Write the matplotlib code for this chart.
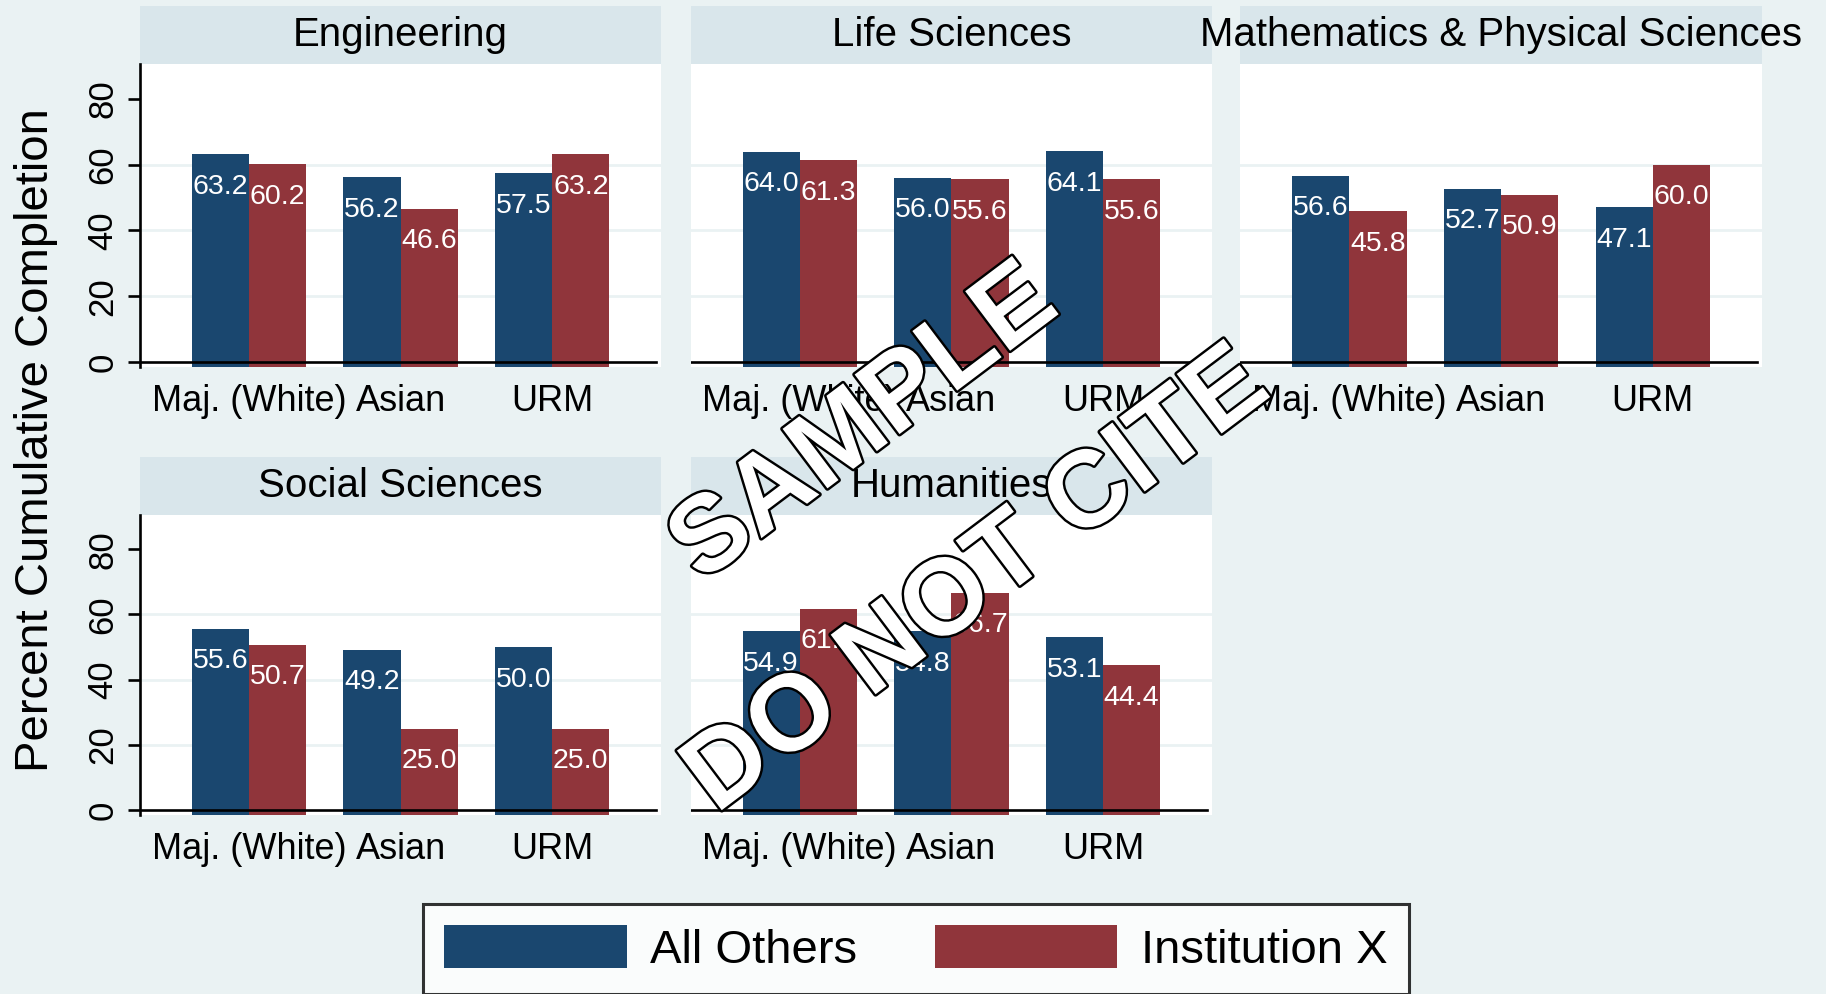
import matplotlib
matplotlib.use("Agg")
import matplotlib.pyplot as plt
import matplotlib.patheffects as pe
from matplotlib.patches import Rectangle
import numpy as np

# ---- data ----
groups = ["Maj. (White)", "Asian", "URM"]
fields = ["Engineering", "Life Sciences", "Mathematics & Physical Sciences",
          "Social Sciences", "Humanities"]
all_others = [
    [63.2, 56.2, 57.5],
    [64.0, 56.0, 64.1],
    [56.6, 52.7, 47.1],
    [55.6, 49.2, 50.0],
    [54.9, 54.8, 53.1],
]
institution_x = [
    [60.2, 46.6, 63.2],
    [61.3, 55.6, 55.6],
    [45.8, 50.9, 60.0],
    [50.7, 25.0, 25.0],
    [61.8, 66.7, 44.4],
]
series_names = ["All Others", "Institution X"]
yticks = [0, 20, 40, 60, 80]
ylabel = "Percent Cumulative Completion"

# ---- style ----
BG = "#EAF2F3"
STRIP = "#D9E6EB"
NAVY = "#1A476F"
MAROON = "#90353B"
FONT = ["Liberation Sans", "DejaVu Sans"]
plt.rcParams["font.family"] = FONT

W, H = 1826, 994
fig = plt.figure(figsize=(W / 100, H / 100), dpi=100, facecolor=BG)

col_left = [139.7, 690.5, 1240.2]
ax_w = 521.7
rows = [(64.0, 367.0), (514.7, 815.0)]  # (top, bottom) px
strip_h = 58.0
ylim = (-1.5, 90.6)
bw = 0.377
x = np.arange(len(groups))

axes = []
handles = None
for i, field in enumerate(fields):
    r, c = divmod(i, 3)
    top, bot = rows[r]
    ax = fig.add_axes([col_left[c] / W, (H - bot) / H, ax_w / W, (bot - top) / H])
    ax.set_facecolor("white")
    ax.set_xlim(-0.72, 2.72)
    ax.set_ylim(*ylim)
    for g in yticks[1:-1]:
        ax.axhline(g, color=BG, lw=2.0, zorder=0.5)
    b1 = ax.bar(x - bw / 2, np.array(all_others[i]) - ylim[0], bw, bottom=ylim[0],
                color=NAVY, zorder=2, label=series_names[0])
    b2 = ax.bar(x + bw / 2, np.array(institution_x[i]) - ylim[0], bw, bottom=ylim[0],
                color=MAROON, zorder=2, label=series_names[1])
    if handles is None:
        handles = [b1, b2]
    for xs, vals in ((x - bw / 2, all_others[i]), (x + bw / 2, institution_x[i])):
        for xx, v in zip(xs, vals):
            ax.annotate(f"{v:.1f}", (xx, v), xytext=(0, -23.5),
                        textcoords="offset points", ha="center", va="center",
                        color="white", fontsize=20.5, zorder=3)
    ax.axhline(0, color="black", lw=1.9, xmax=0.99, zorder=4)
    for s in ["top", "right", "bottom"]:
        ax.spines[s].set_visible(False)
    ax.set_xticks(x)
    ax.set_xticklabels(groups, fontsize=26)
    ax.tick_params(axis="x", length=0, pad=12.5)
    if c == 0:
        ax.spines["left"].set_linewidth(1.9)
        ax.spines["left"].set_color("black")
        ax.set_yticks(yticks)
        ax.set_yticklabels([str(t) for t in yticks], rotation=90, va="center", fontsize=25)
        ax.tick_params(axis="y", length=8.6, width=1.9, pad=6)
    else:
        ax.spines["left"].set_visible(False)
        ax.set_yticks([])
    frac = strip_h / (bot - top)
    ax.add_patch(Rectangle((0, 1), 1, frac, transform=ax.transAxes,
                           facecolor=STRIP, edgecolor="none", clip_on=False, zorder=1))
    ax.text(0.5, 1 + frac / 2, field, transform=ax.transAxes, ha="center",
            va="center", fontsize=29, zorder=5)
    axes.append(ax)

fig.text(36 / W, 0.557, ylabel, rotation=90, ha="center", va="center", fontsize=34)

leg = fig.legend(handles, series_names, loc="upper center",
                 bbox_to_anchor=(916 / W, 1 - 904 / H), ncol=2, fontsize=34,
                 frameon=True, fancybox=False, handlelength=3.86, handleheight=1.0,
                 handletextpad=0.5, columnspacing=1.65, borderpad=0.45,
                 borderaxespad=0)
leg.get_frame().set_edgecolor("black")
leg.get_frame().set_linewidth(2.2)
leg.get_frame().set_facecolor("white")

# watermark
wm = dict(ha="center", va="center", fontsize=78, fontweight="bold", color="white",
          rotation=37, rotation_mode="anchor", zorder=20,
          path_effects=[pe.Stroke(linewidth=3.5, foreground="black"), pe.Normal()])
fig.text(865 / W, 1 - 425 / H, "SAMPLE", **wm)
fig.text(978 / W, 1 - 582 / H, "DO NOT CITE", **wm)

fig.savefig("out.png", dpi=100, facecolor=BG)
